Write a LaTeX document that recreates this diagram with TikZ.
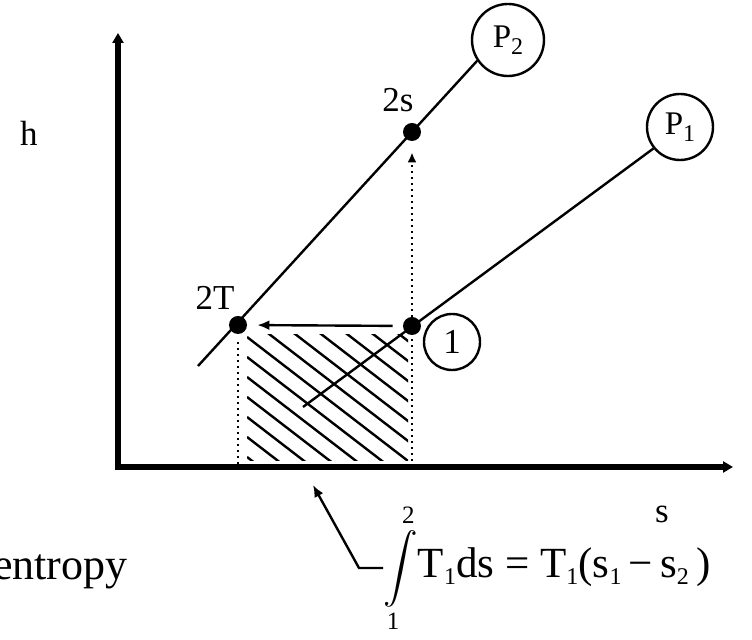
\documentclass[tikz,border=0pt]{standalone}
\usepackage{amsmath}
\usepackage{fontspec}
\setmainfont{Liberation Serif}
\usetikzlibrary{arrows.meta}

\newcommand\lowsub[1]{\raisebox{-3.5pt}{\fontsize{12}{13}\selectfont #1}}
\newcommand\intlim[1]{\text{\fontsize{12.5}{13}\selectfont #1}}

\tikzset{
    lbl/.style={font=\fontsize{17.5}{20}\selectfont, inner sep=0pt},
    ring/.style={circle, draw, line width=1.2pt, inner sep=0pt, font=\fontsize{16.5}{18}\selectfont},
    dot/.style={circle, fill, inner sep=0pt, minimum size=9pt},
    axis/.style={line width=2.75pt, miter limit=4},
    thinline/.style={line width=1.2pt},
    guide/.style={line width=1pt, dotted},
    hatch/.style={line width=1.2pt}
}

\begin{document}
\begin{tikzpicture}[x=0.5pt, y=-0.5pt]
    \useasboundingbox (0,0) rectangle (752,640);

    % Assi
    \coordinate (o)    at (118,467);
    \coordinate (vend) at (118,33);
    \coordinate (hend) at (733,467);
    \draw[axis, {Triangle[length=5pt,width=5.5pt]}-{Triangle[length=5pt,width=5.5pt]}] (vend) |- (hend);
    \node[lbl] (hlab) at (29,133) {h};
    \node[lbl] (slab) at (662,514) {s};

    % Area tratteggiata
    \begin{scope}
        \clip (247,335) rectangle (408,461);
        \foreach \k in {-8,...,7}
            \draw[hatch] (247,337+20*\k) -- ++(200,154);
    \end{scope}

    % Isobare
    \node[ring, minimum size=36pt] (ptwo) at (508,40) {P\lowsub{2}};
    \node[ring, minimum size=33pt] (pone) at (680,127) {P\lowsub{1}};
    \coordinate (ptwolow) at (198,366);
    \coordinate (ponelow) at (303,407);
    \draw[thinline] (ptwolow) -- (ptwo.214);
    \draw[thinline] (ponelow) -- (pone.219);

    % Stati
    \node[dot] (twoT) at (238,325) {};
    \node[dot] (twos) at (412,132) {};
    \node[dot] (one)  at (412,326) {};
    \node[lbl] (twoTlab) at (215,298) {2T};
    \node[lbl] (twoslab) at (398,100) {2s};
    \node[ring, minimum size=28pt, font=\fontsize{17.5}{20}\selectfont] (onelab) at (452,342) {1};

    % Trasformazioni
    \draw[thinline, -{Latex[length=6pt,width=5pt]}, shorten <=5pt, shorten >=5pt] (one) -- (twoT);
    \draw[guide, -{Latex[length=5pt,width=4.5pt]}, shorten >=5.5pt] (one |- o) -- (twos);
    \draw[guide, shorten <=4pt] (twoT) -- (twoT |- o);

    % Formula
    \node[anchor=west, inner sep=0pt, font=\fontsize{21.5}{24}\selectfont] (area) at (383,568)
        {{\fontsize{16}{18}\selectfont$\displaystyle\int\limits_{\intlim{1}}^{\intlim{2}}$}T\lowsub{1}ds = T\lowsub{1}(s\lowsub{1}\,−\,s\lowsub{2}\,)};
    \coordinate (areatip) at (313,485);
    \draw[thinline, -{Latex[length=6pt,width=5pt]}] (area.west) -- ++(-24,0) -- (areatip);
    \node[lbl, anchor=base east, font=\fontsize{22}{24}\selectfont] (entropy) at (128,580) {entropy};
\end{tikzpicture}
\end{document}
